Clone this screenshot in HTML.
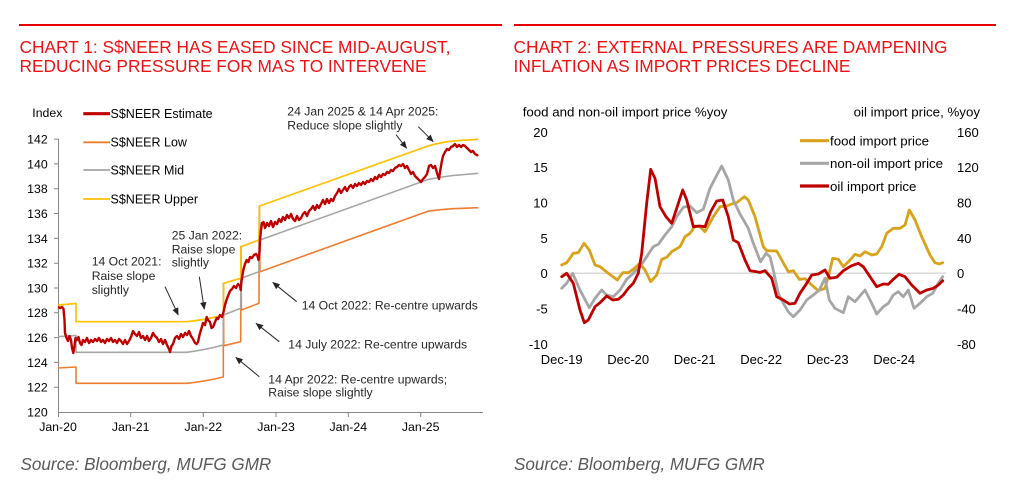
<!DOCTYPE html>
<html><head><meta charset="utf-8"><style>
html,body{margin:0;padding:0;background:#fff;}
svg{display:block;font-family:"Liberation Sans",Arial,sans-serif;}
</style></head><body>
<svg width="1022" height="496" viewBox="0 0 1022 496" xmlns="http://www.w3.org/2000/svg">
<defs>
<marker id="ah" markerWidth="8" markerHeight="8" refX="7" refY="4" orient="auto" markerUnits="userSpaceOnUse">
<path d="M0,0.8 L7.5,4 L0,7.2 Z" fill="#262626"/>
</marker>
</defs>
<rect width="1022" height="496" fill="#fff"/>
<!-- top rules -->
<line x1="19" y1="25" x2="502" y2="25" stroke="#e60000" stroke-width="2"/>
<line x1="514" y1="25" x2="996" y2="25" stroke="#e60000" stroke-width="2"/>
<!-- titles -->
<g fill="#ee1111" font-size="17.2">
<text x="19.5" y="53" textLength="431" lengthAdjust="spacingAndGlyphs">CHART 1: S$NEER HAS EASED SINCE MID-AUGUST,</text>
<text x="19.5" y="72" textLength="407" lengthAdjust="spacingAndGlyphs">REDUCING PRESSURE FOR MAS TO INTERVENE</text>
<text x="513.5" y="53" textLength="434" lengthAdjust="spacingAndGlyphs">CHART 2: EXTERNAL PRESSURES ARE DAMPENING</text>
<text x="513.5" y="72" textLength="337" lengthAdjust="spacingAndGlyphs">INFLATION AS IMPORT PRICES DECLINE</text>
</g>
<!-- sources -->
<g fill="#595959" font-size="17.1" font-style="italic">
<text x="20.5" y="470">Source: Bloomberg, MUFG GMR</text>
<text x="514" y="470">Source: Bloomberg, MUFG GMR</text>
</g>

<!-- ================= CHART 1 ================= -->
<g font-size="12.3" fill="#000">
<text x="32.3" y="117">Index</text>
<g text-anchor="end">
<text x="47.7" y="143.5">142</text>
<text x="47.7" y="168.3">140</text>
<text x="47.7" y="193.1">138</text>
<text x="47.7" y="217.9">136</text>
<text x="47.7" y="242.8">134</text>
<text x="47.7" y="267.6">132</text>
<text x="47.7" y="292.4">130</text>
<text x="47.7" y="317.2">128</text>
<text x="47.7" y="342">126</text>
<text x="47.7" y="366.8">124</text>
<text x="47.7" y="391.6">122</text>
<text x="47.7" y="416.4">120</text>
</g>
<g text-anchor="middle">
<text x="58" y="431">Jan-20</text>
<text x="130.7" y="431">Jan-21</text>
<text x="203.3" y="431">Jan-22</text>
<text x="276" y="431">Jan-23</text>
<text x="348.3" y="431">Jan-24</text>
<text x="420.7" y="431">Jan-25</text>
</g>
</g>
<!-- axes -->
<g stroke="#868686" stroke-width="1" fill="none">
<line x1="58.5" y1="139" x2="58.5" y2="412"/>
<line x1="58" y1="412.5" x2="483" y2="412.5"/>
<path d="M54,139.1H58.5M54,163.9H58.5M54,188.7H58.5M54,213.5H58.5M54,238.4H58.5M54,263.2H58.5M54,288H58.5M54,312.8H58.5M54,337.6H58.5M54,362.4H58.5M54,387.2H58.5"/>
<path d="M58.5,412V417M130.7,412V417M203.3,412V417M276,412V417M348.3,412V417M420.7,412V417"/>
</g>
<!-- legend chart1 -->
<line x1="83.3" y1="113.7" x2="110" y2="113.7" stroke="#c00000" stroke-width="3.2"/>
<line x1="83.3" y1="142.3" x2="110" y2="142.3" stroke="#ed7d31" stroke-width="1.8"/>
<line x1="83.3" y1="170" x2="110" y2="170" stroke="#a5a5a5" stroke-width="1.8"/>
<line x1="83.3" y1="199" x2="110" y2="199" stroke="#ffc000" stroke-width="1.8"/>
<g font-size="12.5" fill="#000">
<text x="110.5" y="118">S$NEER Estimate</text>
<text x="110.5" y="146.7">S$NEER Low</text>
<text x="110.5" y="174.4">S$NEER Mid</text>
<text x="110.5" y="203.4">S$NEER Upper</text>
</g>
<!-- bands -->
<path fill="none" stroke="#ed7d31" stroke-width="1.6" stroke-linejoin="round" d="M58,368 L76,367 L76,383.3 L186.7,383.3 Q205,381.5 223.3,377 L223.3,283.3 L223.8,345.7 L240.7,341.7 L240.9,246.7 L241.4,310 L259,303.3 L259.3,206 L260,271.7 L428,211.2 Q440,209.5 453,208.7 L478.3,207.7"/>
<path fill="none" stroke="#a5a5a5" stroke-width="1.6" stroke-linejoin="round" d="M58,336.7 L76,335.5 L76,352.3 L186.7,352.3 Q205,350 223.3,345 L223.3,283.3 L223.6,315 L240.7,308.3 L240.9,246.7 L241.3,278.3 L259,271.7 L259.3,206 L260,240 L428,179.5 Q440,177 453,175.5 L478.3,173.3"/>
<path fill="none" stroke="#ffc000" stroke-width="1.7" stroke-linejoin="round" d="M58,305 L76,303.5 L76,321.7 L186.7,321.7 Q205,320 223.3,315 L223.6,283.3 L240.7,278.3 L241,246.7 L259,240 L259.5,206 L428,146 Q440,142.5 453,141 L478.3,139.3"/>
<!-- estimate -->
<polyline fill="none" stroke="#c00000" stroke-width="2.4" stroke-linejoin="round" points="58,307 60,308 62,307 63.5,309 64.5,320 65,333 66.5,338 68,341 69.5,336 71,340 72,348 73.3,353 74.5,346 75.5,338 77,340 78.5,337 80,343 81.5,345 83,340 85,342 87,338 89,343 91,340 93,342 95,339 97,341 99,338 101,342 103,340 105,343 107,339 109,341 111,338 113,342 115,340 117,343 119,339 121,341 123,344 125,340 127,344 129,341 131,337 133,331 135,334 137,336 139,332 141,338 143,336 145,340 147,336 149,341 151,338 153,333 155,336 157,338 159,342 161,339 163,344 165,340 167,345 169,349 170,352 171.5,346 173,344 175,338 177,336 179,339 181,334 183,337 185,333 187,335 189,331 191,336 193,339 195,343 196.7,344 198,342 199.5,335 201,330 203,323 205,325 206.7,317 208,320 210,322 211.5,328 213,327 215,322 216.7,318 218,319 220,315 222,317 223.5,312 225,305 226.5,300 228,296 230,291 232,289 234,286 236,288 238,284 240,286 240.7,290 241.5,281 243.3,270 245,264 246.7,260 248.5,262 250,257 252,258 254,255 256,254 257.5,256 258.5,260 259.5,252 260,240 261,230 262,223 263.5,222 265,228 267,223 269,226 271,221 273,227 275,222 277,224 279,219 281,222 283,217 285,220 287,215 289,218 291,214 293,219 295,221 297,216 299,220 301,218 303,214 305,212 307,216 309,211 311,209 313,206 315,210 317,205 319,208 321,204 323,200 325,204 327,199 329,203 331,199 333,201 335,196 337,193 339,189 341,193 343,190 345,187 347,191 349,187 351,185 353,188 355,184 357,186 359,183 361,185 363,182 365,184 367,181 369,182 371,179 373,181 375,177 377,179 379,175 381,177 383,174 385,175 387,172 389,173 391,170 393,171 395,168 397,167 399,165 401,166 403,164 405,168 407,166 409,170 411,174 413,172 415,176 417,178 419,180 421,182 423,179 425,177 427,174 429,166 431,165 433,168 435,166 437,173 439,179 440,172 441.7,162 443,156 445,152 447,149 449,150 451,147 453,146 455,144 457,147 459,145 461,147 463,145 465,146 467,148 469,150 471,152 473,151 475,154 477,155 478,156"/>
<!-- annotations -->
<g font-size="12.2" fill="#262626">
<text x="287.3" y="115.5">24 Jan 2025 &amp; 14 Apr 2025:</text>
<text x="287.3" y="129.7">Reduce slope slightly</text>
<text x="171.7" y="239.4">25 Jan 2022:</text>
<text x="171.7" y="253.4">Raise slope</text>
<text x="171.7" y="266.7">slightly</text>
<text x="91.7" y="265.4">14 Oct 2021:</text>
<text x="91.7" y="280">Raise slope</text>
<text x="91.7" y="294">slightly</text>
<text x="301.7" y="309.4">14 Oct 2022: Re-centre upwards</text>
<text x="288.3" y="348.7">14 July 2022: Re-centre upwards</text>
<text x="268.3" y="383.4">14 Apr 2022: Re-centre upwards;</text>
<text x="268.3" y="396.7">Raise slope slightly</text>
</g>
<g stroke="#262626" stroke-width="1" marker-end="url(#ah)">
<line x1="396" y1="134.7" x2="406.7" y2="148.3"/>
<line x1="418.3" y1="126.7" x2="433.3" y2="141.7"/>
<line x1="165" y1="286.7" x2="178.3" y2="315"/>
<line x1="199.3" y1="276.7" x2="204.3" y2="309.3"/>
<line x1="296.7" y1="301.7" x2="272.7" y2="282.3"/>
<line x1="279.3" y1="341.7" x2="256" y2="323.3"/>
<line x1="259.3" y1="376.7" x2="235.7" y2="357.3"/>
</g>

<!-- ================= CHART 2 ================= -->
<g font-size="13.3" fill="#000">
<text x="522.7" y="116.5">food and non-oil import price %yoy</text>
<text x="980" y="116.5" text-anchor="end">oil import price, %yoy</text>
<g text-anchor="end" font-size="13">
<text x="547.7" y="136.8">20</text>
<text x="547.7" y="172.1">15</text>
<text x="547.7" y="207.5">10</text>
<text x="547.7" y="242.8">5</text>
<text x="547.7" y="278.1">0</text>
<text x="547.7" y="313.5">-5</text>
<text x="547.7" y="348.8">-10</text>
</g>
<g font-size="13">
<text x="957" y="136.8">160</text>
<text x="957" y="172.1">120</text>
<text x="957" y="207.5">80</text>
<text x="957" y="242.8">40</text>
<text x="957" y="278.1">0</text>
<text x="957" y="313.5">-40</text>
<text x="957" y="348.8">-80</text>
</g>
<g text-anchor="middle" font-size="13">
<text x="561.7" y="364">Dec-19</text>
<text x="628.2" y="364">Dec-20</text>
<text x="694.7" y="364">Dec-21</text>
<text x="761.2" y="364">Dec-22</text>
<text x="827.7" y="364">Dec-23</text>
<text x="894.2" y="364">Dec-24</text>
</g>
<text x="830" y="145.5">food import price</text>
<text x="830" y="168.1">non-oil import price</text>
<text x="830" y="190.8">oil import price</text>
</g>
<line x1="561" y1="273.3" x2="946" y2="273.3" stroke="#d9d9d9" stroke-width="1.5"/>
<line x1="800" y1="140.7" x2="829" y2="140.7" stroke="#d8a31a" stroke-width="3.2"/>
<line x1="800" y1="163.3" x2="829" y2="163.3" stroke="#a6a6a6" stroke-width="3.2"/>
<line x1="800" y1="186" x2="829" y2="186" stroke="#c00000" stroke-width="3.2"/>
<g fill="none" stroke-width="2.8" stroke-linejoin="round" stroke-linecap="round">
<polyline stroke="#d8a31a" points="561.7,265 566.7,262.7 573.3,253.3 578.3,252.7 584,243.3 589.3,250 595,265 600,266.7 608.3,273.3 617.3,280 622.7,272.7 628.3,272.7 633.3,269.3 640,263.3 645,270 650.7,281.7 656.7,275 661.7,259.3 666.7,257.3 671.7,251.7 680,246.7 685,236.7 690,233.3 695,226 700,226.7 705,231.7 713.3,216.7 720,206.7 726.7,206 731.7,204 736.7,202.7 744.3,196.7 748.3,200 755,216.7 763.3,246.7 766.7,250.7 776.7,251 781.7,260 788.3,271.7 793.3,270.7 799.3,279.3 805,278.7 811.7,285 818.3,290.7 825,288.3 830,270 832.7,258.3 838.3,259.3 843.3,266.7 850,260 855,254.3 860,256 865,251.7 871.7,255 876.7,254 881.7,246.7 886.7,233.3 893.3,228.3 900,228.3 905,225 909.3,210 915,220 921.7,236.7 930,255 935,262.7 939.3,264 942.7,262.7"/>
<polyline stroke="#a6a6a6" points="561.7,288.3 566.7,283.3 572.7,273.3 580,290 589.3,307.7 595,298.3 601.7,290 606.7,295 613.3,296.7 620,290 626.7,279.3 633.3,273.3 640,266.7 646.7,256.7 653.3,246.7 658.3,244.3 665,235 671.7,226.7 676.7,216.7 683.3,207.3 690,206 696.7,212.7 703.3,209.3 710,188.3 716,176.7 721.7,166 728.3,180 733.3,200 740,214 748.3,228.3 753.3,243.3 760.5,261.7 766,253.3 770,256.7 773.3,270 778.3,293.3 783.3,303.3 788.3,311.7 793.3,316.7 800,310 806.7,300 813.3,295 819.3,290 825,278.3 829.3,300 835,308.3 843.3,312.7 848.3,296.7 855,301.7 865,290 871.7,303.3 876.7,314 883.3,306.7 888.3,303.3 893.3,295 898.3,291.7 903.3,296.7 908.3,290 914,308.3 920,303.3 926.7,296.7 932.7,293.3 938.3,283.3 942.7,276.7"/>
<polyline stroke="#c00000" points="561.7,276.7 566.7,273.3 573.3,283.3 580,310 584.3,322.7 588.3,320 595,306.7 600,302.7 606.7,296 612.7,300 618.3,299.3 623.3,295 628.3,288.3 633.3,283.3 638.3,273.3 641.7,253.3 646.7,203.3 650.7,169.3 655,178.3 660,206.7 666,216.7 671.7,223.3 676.7,208.3 682.7,190 686.7,200 693.3,226.7 699.3,226 705,226.7 710.7,211.7 716.7,201 722.7,200 728.3,216.7 733.3,240 738.3,242.7 745,260 750,270.7 756.7,271.7 760,272.5 765,270.7 771.7,278.3 776.7,296.7 783.3,300 789.3,304 795,303.3 800,293.3 806.7,283.3 811.7,275 818.3,274 825,270 830,278.3 836.7,277.3 843.3,270.7 851.7,265.7 858.3,263.3 863.3,266.7 870,276.7 876.7,286.7 883.3,284 888.3,284.3 893.3,279.3 899,274.3 905,276.7 911.7,285 920,293.3 926.7,290 933.3,288.3 938.3,285 942.7,280.7"/>
</g>
</svg>
</body></html>
